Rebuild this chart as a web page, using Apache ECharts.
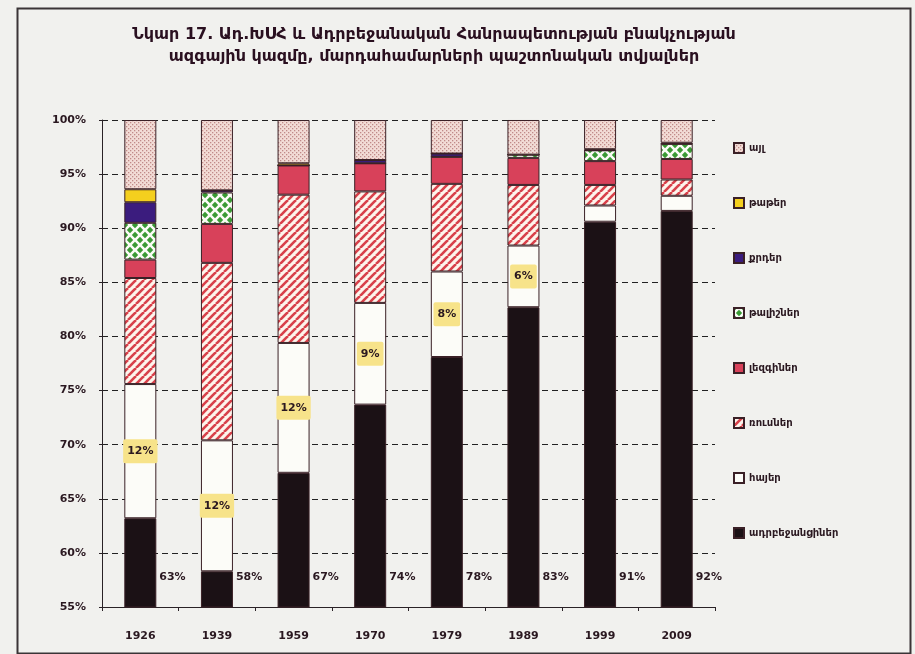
<!DOCTYPE html>
<html>
<head>
<meta charset="utf-8">
<script src="https://cdn.jsdelivr.net/npm/echarts@6/dist/echarts.min.js"></script>
<style>
html,body{margin:0;padding:0;background:#f1f1ee;}
#c{width:915px;height:654px;}
</style>
</head>
<body>
<div id="c"></div>
<script>
// ---- data ----
var years = ['1926', '1939', '1959', '1970', '1979', '1989', '1999', '2009'];
var azeri     = [63.2, 58.3, 67.4, 73.7, 78.1, 82.7, 90.6, 91.6];
var armenians = [12.4, 12.1, 12.0, 9.4, 7.9, 5.7, 1.5, 1.4];
var russians  = [9.8, 16.4, 13.7, 10.3, 8.1, 5.6, 1.9, 1.5];
var lezgins   = [1.7, 3.6, 2.7, 2.6, 2.5, 2.5, 2.2, 1.9];
var talysh    = [3.4, 2.9, 0, 0, 0, 0.3, 1.0, 1.4];
var kurds     = [1.9, 0.2, 0, 0.3, 0.3, 0, 0, 0];
var tats      = [1.2, 0, 0.2, 0, 0, 0, 0.1, 0.1];
var other     = [6.4, 6.5, 4.0, 3.7, 3.1, 3.2, 2.7, 2.1];
var yTicks = [55, 60, 65, 70, 75, 80, 85, 90, 95, 100];
var armLabelYears = ['1926', '1939', '1959', '1970', '1979', '1989'];

var names = ['ադրբեջանցիներ', 'հայեր', 'ռուսներ', 'լեզգիներ', 'թալիշներ', 'քրդեր', 'թաթեր', 'այլ'];
var titleText = 'Նկար 17. Ադ.ԽՍՀ և Ադրբեջանական Հանրապետության բնակչության\nազգային կազմը, մարդահամարների պաշտոնական տվյալներ';

// ---- patterns ----
function mk(w, h, draw) {
  var c = document.createElement('canvas');
  c.width = w; c.height = h;
  draw(c.getContext('2d'), w, h);
  return { image: c, repeat: 'repeat' };
}
var hatch = mk(8, 8, function (g, w, h) {
  g.fillStyle = '#fdf4ec'; g.fillRect(0, 0, w, h);
  g.strokeStyle = '#d8404a'; g.lineWidth = 2.6;
  [-8, 0, 8].forEach(function (o) {
    g.beginPath(); g.moveTo(o, h); g.lineTo(o + w, 0); g.stroke();
  });
});
var checker = mk(10, 10, function (g, w, h) {
  g.fillStyle = '#fbfbf6'; g.fillRect(0, 0, w, h);
  g.fillStyle = '#3a9a34';
  function dia(cx, cy, r) {
    g.beginPath(); g.moveTo(cx, cy - r); g.lineTo(cx + r, cy); g.lineTo(cx, cy + r); g.lineTo(cx - r, cy); g.closePath(); g.fill();
  }
  dia(5, 5, 3.2); dia(0, 0, 3.2); dia(10, 0, 3.2); dia(0, 10, 3.2); dia(10, 10, 3.2);
});
var dots = mk(4, 4, function (g, w, h) {
  g.fillStyle = '#f2dcd6'; g.fillRect(0, 0, w, h);
  g.fillStyle = '#c08a88';
  g.fillRect(0, 0, 1.3, 1.3); g.fillRect(2, 2, 1.3, 1.3);
});

var colors = ['#1b1115', '#fcfcf8', hatch, '#d8415a', checker, '#3b1c7e', '#f4cf1e', dots];
var values = [azeri, armenians, russians, lezgins, talysh, kurds, tats, other];

var txt = '#2a1820';
var font = 'DejaVu Sans';

var series = names.map(function (n, i) {
  var s = {
    name: n, type: 'bar', stack: 'total', barWidth: 32,
    data: values[i],
    itemStyle: { color: colors[i], borderColor: '#3a2026', borderWidth: 1 },
    emphasis: { disabled: true }
  };
  if (i === 0) {
    s.label = {
      show: true, position: 'inside', formatter: function (p) { return Math.round(p.value) + '%'; },
      color: txt, fontFamily: font, fontWeight: 'bold', fontSize: 11
    };
    s.labelLayout = function (p) {
      return { x: p.rect.x + p.rect.width + 3, y: p.rect.y + p.rect.height - 30, align: 'left', verticalAlign: 'middle' };
    };
  }
  if (i === 1) {
    s.data = values[i].map(function (v, k) {
      return { value: v, label: { show: armLabelYears.indexOf(years[k]) >= 0 } };
    });
    s.label = {
      show: true, position: 'inside',
      formatter: function (p) { return Math.round(p.value) + '%'; },
      color: txt, fontFamily: font, fontWeight: 'bold', fontSize: 11,
      backgroundColor: '#f7e38a', padding: [7, 4, 6, 4], borderRadius: 2
    };
  }
  return s;
});

var chart = echarts.init(document.getElementById('c'), null, { renderer: 'canvas' });
chart.setOption({
  backgroundColor: '#f1f1ee',
  animation: false,
  title: {
    text: titleText, left: 429, top: 19, textAlign: 'center',
    textStyle: { fontFamily: font, fontWeight: 'bold', fontSize: 16, color: '#2a1020', lineHeight: 22 }
  },
  graphic: [{
    type: 'rect', left: 15, top: 6, shape: { width: 893, height: 645 },
    style: { fill: null, stroke: '#3a3436', lineWidth: 2 }, silent: true
  }],
  legend: {
    orient: 'vertical', left: 728, top: 137, itemWidth: 10, itemHeight: 10, itemGap: 43,
    data: names.slice().reverse(), icon: 'rect',
    textStyle: { fontFamily: font, fontWeight: 'bold', fontSize: 10, color: txt },
    selectedMode: false
  },
  grid: { left: 102, right: 200, top: 120, bottom: 47 },
  xAxis: {
    type: 'category', data: years,
    axisLine: { lineStyle: { color: '#2a2226', width: 1 } },
    axisTick: { show: true, length: 4, lineStyle: { color: '#2a2226' } },
    axisLabel: { color: txt, fontFamily: font, fontWeight: 'bold', fontSize: 11, margin: 24 }
  },
  yAxis: {
    type: 'value', min: yTicks[0], max: yTicks[yTicks.length - 1], interval: 5,
    axisLine: { show: true, lineStyle: { color: '#2a2226', width: 1 } },
    axisTick: { show: true, length: 3, lineStyle: { color: '#2a2226' } },
    axisLabel: { formatter: '{value}%', color: txt, fontFamily: font, fontWeight: 'bold', fontSize: 11, margin: 16 },
    splitLine: { show: true, lineStyle: { color: '#222', type: [6, 4], width: 1.2 } }
  },
  series: series
});
</script>
</body>
</html>
